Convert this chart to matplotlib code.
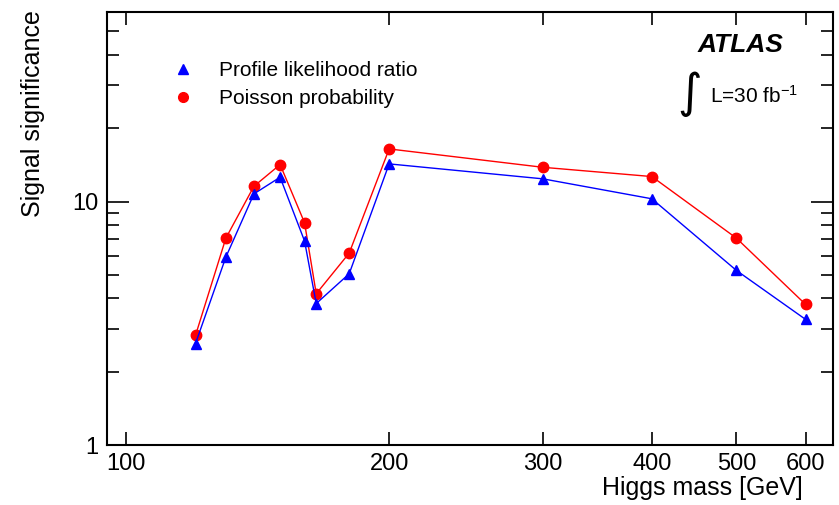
import matplotlib
matplotlib.use("Agg")
import matplotlib.pyplot as plt
from matplotlib.lines import Line2D
from matplotlib.ticker import FixedLocator, FixedFormatter, NullFormatter, NullLocator

plt.rcParams['font.family'] = ['Liberation Sans', 'DejaVu Sans']
plt.rcParams['mathtext.fontset'] = 'custom'
plt.rcParams['mathtext.rm'] = 'Liberation Sans'
plt.rcParams['mathtext.it'] = 'Liberation Sans:italic'

# Higgs masses [GeV]
mass = [120, 130, 140, 150, 160, 165, 180, 200, 300, 400, 500, 600]
# significance values
profile_lr = [2.61, 5.91, 10.75, 12.58, 6.88, 3.81, 5.05, 14.27, 12.39, 10.26, 5.21, 3.28]
poisson = [2.82, 7.07, 11.55, 14.18, 8.18, 4.18, 6.14, 16.44, 13.82, 12.66, 7.07, 3.78]

xticks = [100, 200, 300, 400, 500, 600]
yticks = [1, 10]
yminor = [2, 3, 4, 5, 6, 7, 8, 9, 20, 30, 40, 50]

fig = plt.figure(figsize=(8.39, 5.05), dpi=100)
ax = fig.add_axes([0.1275, 0.1188, 0.8653, 0.8574])

ax.plot(mass, poisson, color='#ff0000', lw=1.0, marker='o', ms=7.5, mec='#ff0000', zorder=3)
ax.plot(mass, profile_lr, color='#0000ff', lw=1.0, marker='^', ms=7.5, mec='#0000ff', zorder=4)

ax.set_xscale('log')
ax.set_yscale('log')
ax.set_xlim(95, 645)
ax.set_ylim(1, 60)

ax.xaxis.set_major_locator(FixedLocator(xticks))
ax.xaxis.set_major_formatter(FixedFormatter([str(t) for t in xticks]))
ax.xaxis.set_minor_locator(NullLocator())
ax.yaxis.set_major_locator(FixedLocator(yticks))
ax.yaxis.set_major_formatter(FixedFormatter([str(t) for t in yticks]))
ax.yaxis.set_minor_locator(FixedLocator(yminor))
ax.yaxis.set_minor_formatter(NullFormatter())

ax.tick_params(axis='both', which='both', direction='in', top=True, right=True, width=1.2, labelsize=17)
ax.tick_params(axis='x', which='major', length=9.5, pad=6)
ax.tick_params(axis='y', which='major', length=16, pad=6)
ax.tick_params(axis='y', which='minor', length=8.5)
for s in ax.spines.values():
    s.set_linewidth(1.5)

ax.set_xlabel('Higgs mass [GeV]', fontsize=18, loc='right')
ax.xaxis.set_label_coords(0.9587, -0.072)
ax.set_ylabel('Signal significance', fontsize=18, loc='top')
ax.yaxis.set_label_coords(-0.085, 1.005)

handles = [Line2D([], [], color='#0000ff', marker='^', ls='none', ms=7),
           Line2D([], [], color='#ff0000', marker='o', ls='none', ms=7)]
ax.legend(handles, ['Profile likelihood ratio', 'Poisson probability'], loc='upper left',
          bbox_to_anchor=(0.065, 0.93), frameon=False, fontsize=15,
          handletextpad=1.2, labelspacing=0.45, handlelength=1.0)

ax.text(0.872, 0.924, 'ATLAS', transform=ax.transAxes, ha='center', va='center',
        fontsize=19, fontweight='bold', fontstyle='italic')
ax.text(0.803, 0.81, '\u222b', transform=ax.transAxes, ha='center', va='center',
        fontsize=34, family='DejaVu Sans')
ax.text(0.8306, 0.79, 'L=30 fb$^{-1}$', transform=ax.transAxes, ha='left', va='baseline',
        fontsize=15)

fig.savefig('out.png', dpi=100)
